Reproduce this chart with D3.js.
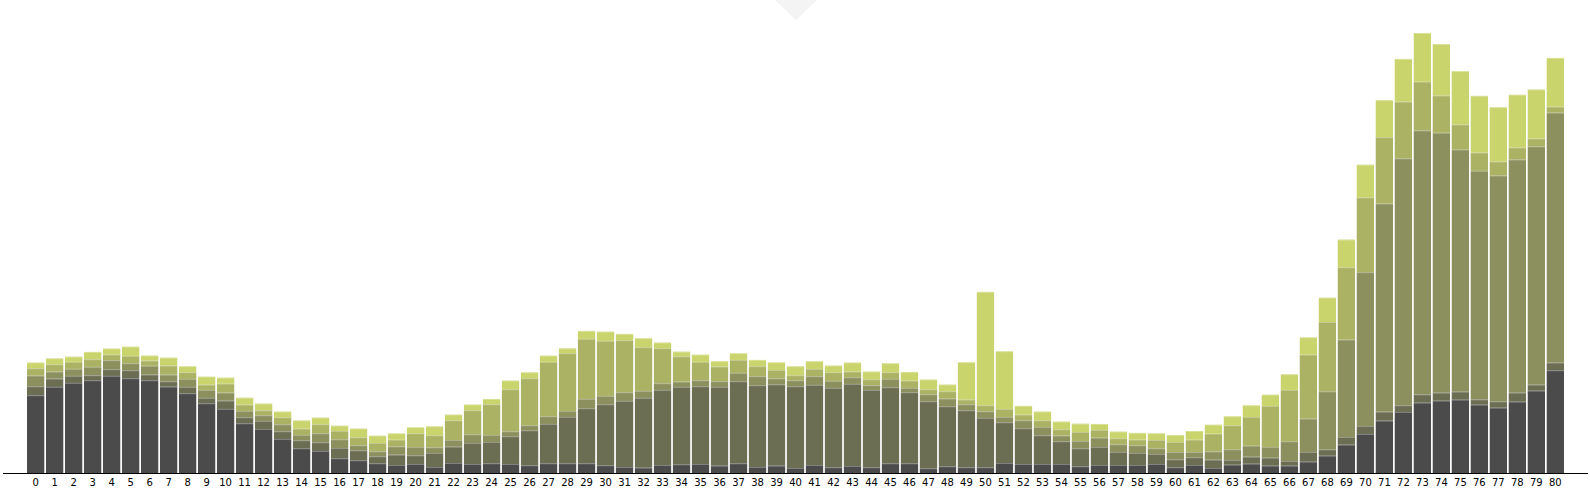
<!DOCTYPE html>
<html>
<head>
<meta charset="utf-8">
<script src="https://cdn.jsdelivr.net/npm/d3@7"></script>
<style>
  body { margin: 0; background: #fff; }
  .axis text { font: 10px "DejaVu Sans", sans-serif; fill: #000; }
</style>
</head>
<body>
<div id="chart"></div>
<script>
const WIDTH = 1590;
const HEIGHT = 499;

// category labels along the x axis
const categories = [
  0, 1, 2, 3, 4, 5, 6, 7, 8, 9, 10, 11, 12, 13, 14, 15, 16, 17, 18, 19,
  20, 21, 22, 23, 24, 25, 26, 27, 28, 29, 30, 31, 32, 33, 34, 35, 36, 37, 38, 39,
  40, 41, 42, 43, 44, 45, 46, 47, 48, 49, 50, 51, 52, 53, 54, 55, 56, 57, 58, 59,
  60, 61, 62, 63, 64, 65, 66, 67, 68, 69, 70, 71, 72, 73, 74, 75, 76, 77, 78, 79, 80
];

// stacked layers, bottom to top
const layer1 = [
  77.7, 86, 90, 92.7, 97, 94.7, 92.7, 86.3, 79.7, 69.7, 64, 49.7, 44, 34, 24.7, 22, 14.7, 12.7, 9.7, 8,
  9, 6, 10, 9, 9.7, 9, 7.7, 9.7, 9.7, 9.7, 7.7, 6, 5.3, 8, 8.7, 9, 7.3, 9.7, 6, 7.3,
  5, 8, 5.7, 7, 5.7, 9.7, 9.7, 4.7, 6.7, 5.7, 5.7, 10, 9, 9, 9, 6.7, 8, 8, 8, 9,
  5.7, 8, 5, 8.3, 9.3, 7.3, 7.3, 11.3, 17.3, 28.3, 39, 52.3, 61, 70.3, 72.3, 73.3, 68.3, 65.3, 71.3, 82.3, 102.7
];
const layer2 = [
  9, 8.3, 7, 5, 6.7, 8, 5.7, 5.3, 6.3, 5.3, 8.3, 6, 8, 7.7, 8, 8.7, 10.3, 10, 7, 10.3,
  8.7, 14, 16.3, 21, 21.3, 27.7, 35, 39.3, 46.3, 55, 61, 66, 69.7, 75, 77.3, 77.7, 78.7, 82, 81.7, 81.3,
  81.7, 80, 79.3, 82, 77.3, 76, 71, 67, 60, 57, 49.3, 40.7, 35.7, 28.7, 22.7, 18, 18, 13, 12, 10,
  8, 7.7, 8.3, 4.7, 7, 8, 4.7, 9.7, 6.3, 7.7, 8, 9, 6.7, 8.3, 8, 8, 5.3, 6.3, 9, 6, 7.7
];
const layer3 = [
  10.7, 7, 7, 8.3, 9, 7, 8.7, 6.7, 8, 8, 8, 6.3, 5.7, 7, 5.3, 9, 8.7, 5, 5, 8.3,
  8.3, 5.7, 6.7, 8.7, 7, 5, 5, 7.7, 6, 9.3, 8.3, 8.7, 7, 6.7, 5.3, 6, 5.7, 8.3, 9, 6,
  6, 8.7, 7, 6.7, 4.7, 8.3, 4.3, 7, 7.7, 6, 6.7, 5.3, 8, 8.3, 5.7, 7.3, 9.3, 7.7, 7.7, 5.7,
  7.3, 5.3, 8.3, 10.7, 11, 10.7, 19.7, 33.3, 58, 97.3, 153.7, 208, 246.7, 263.7, 259.7, 242, 228.3, 225.7, 233, 238, 249.7
];
const layer4 = [
  7.3, 7.3, 7, 7.7, 5.7, 7.3, 5.3, 9, 6.7, 5.3, 9, 6.3, 5, 7, 6.3, 9, 8.3, 8, 8.3, 6.7,
  13.7, 12, 19.7, 24, 30.7, 42, 47, 54.3, 57.7, 60, 55, 52, 43.7, 35, 25.3, 18.3, 14.7, 13, 10, 8.3,
  5, 7.3, 8.7, 5.7, 6, 6.7, 7.3, 5, 7.3, 4.7, 6, 8, 5.7, 6.7, 6.3, 9, 7.7, 6, 5.7, 8.3,
  10, 12.3, 17.7, 24, 28.7, 41, 51.3, 64, 69.3, 72.3, 74.7, 66.3, 56.7, 48.7, 37.3, 25, 18.3, 14, 12, 8, 6
];
const layer5 = [
  5.7, 6, 5.3, 7.3, 6, 9.3, 5, 8, 6, 8, 6, 7, 6.7, 5.7, 8.3, 6.7, 5.3, 8.7, 7.3, 6.3,
  6, 9, 5.7, 5.7, 5.3, 8.7, 6, 6.3, 5, 8, 9.3, 6.3, 9, 5.7, 4.7, 7.3, 5.3, 6.7, 6.3, 7.7,
  9, 7.7, 6.7, 9, 7.7, 9, 8.7, 9.7, 6.7, 37.3, 113.3, 57.7, 8.7, 8.7, 7.7, 8.3, 6, 6.7, 6.7, 6.7,
  7, 8.7, 9, 9, 11.7, 11.3, 15.7, 17.3, 24.3, 27.7, 32.7, 37, 42.7, 48.7, 51.3, 53.3, 56.7, 54.3, 52.7, 49, 48.7
];

const layerKeys = ['layer1', 'layer2', 'layer3', 'layer4', 'layer5'];
const colors = ['#4b4b4b', '#6b6e53', '#8b905e', '#abb263', '#c9d46c'];

const rows = categories.map((c, i) => ({
  category: c,
  layer1: layer1[i],
  layer2: layer2[i],
  layer3: layer3[i],
  layer4: layer4[i],
  layer5: layer5[i]
}));

const stacked = d3.stack().keys(layerKeys)(rows);
const maxTotal = d3.max(stacked[stacked.length - 1], d => d[1]);

const baseY = 473;

const x = d3.scaleBand()
  .domain(categories)
  .range([27, 1564])
  .paddingInner(0.09);

const y = d3.scaleLinear()
  .domain([0, maxTotal])
  .range([baseY, 33]);

const color = d3.scaleOrdinal().domain(layerKeys).range(colors);

const svg = d3.select('#chart')
  .append('svg')
  .attr('width', WIDTH)
  .attr('height', HEIGHT);

// little pull-down tab at the top
svg.append('path')
  .attr('d', 'M775,0L817,0L796,20Z')
  .attr('fill', '#f4f4f4');

const layers = svg.selectAll('g.layer')
  .data(stacked)
  .enter()
  .append('g')
  .attr('class', 'layer')
  .attr('fill', d => color(d.key));

layers.selectAll('rect')
  .data(d => d)
  .enter()
  .append('rect')
  .attr('x', d => x(d.data.category))
  .attr('y', d => y(d[1]))
  .attr('width', x.bandwidth())
  .attr('height', d => y(d[0]) - y(d[1]));

// faint highlight along the top of each segment
layers.selectAll('line')
  .data(d => d)
  .enter()
  .append('line')
  .attr('x1', d => x(d.data.category))
  .attr('x2', d => x(d.data.category) + x.bandwidth())
  .attr('y1', d => y(d[1]) + 0.5)
  .attr('y2', d => y(d[1]) + 0.5)
  .attr('stroke', '#fff')
  .attr('stroke-opacity', 0.3);

const axis = svg.append('g')
  .attr('class', 'axis')
  .attr('transform', `translate(0,${baseY})`)
  .call(d3.axisBottom(x).tickSize(0).tickPadding(5.5));

axis.select('.domain').remove();

svg.append('line')
  .attr('x1', 3)
  .attr('x2', 1588)
  .attr('y1', baseY + 0.5)
  .attr('y2', baseY + 0.5)
  .attr('stroke', '#000')
  .attr('stroke-width', 1.2);
</script>
</body>
</html>
